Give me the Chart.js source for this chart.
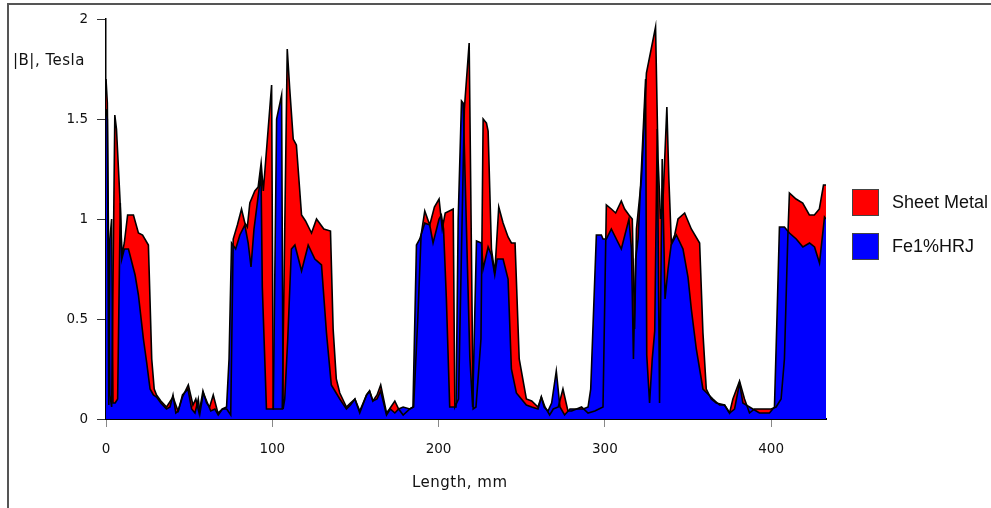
<!DOCTYPE html>
<html>
<head>
    <title>|B| along length</title>
    <script src="https://cdn.jsdelivr.net/npm/chart.js"></script>
    <style>
        body {
            margin: 0;
            background: #fff;
        }
        .wrap {
            position: relative;
            width: 991px;
            height: 508px;
            overflow: hidden;
            background: #fff;
        }
        .frame {
            position: absolute;
            left: 7px;
            top: 3px;
            width: 1000px;
            height: 520px;
            border-top: 2px solid #555;
            border-left: 2px solid #555;
        }
        canvas {
            position: absolute;
            left: 0;
            top: 0;
        }
        .axis-title {
            position: absolute;
            font-family: "DejaVu Sans", sans-serif;
            font-size: 15px;
            letter-spacing: 0.5px;
            line-height: 16px;
            color: #111;
            white-space: nowrap;
        }
        .legend-item {
            position: absolute;
            left: 852px;
            font-family: "Liberation Sans", Arial, sans-serif;
            font-size: 18px;
            line-height: 27px;
            color: #111;
            white-space: nowrap;
        }
        .legend-item span {
            display: inline-block;
            width: 27px;
            height: 27px;
            box-sizing: border-box;
            border: 1px solid #444;
            vertical-align: top;
            margin-right: 13px;
        }
    </style>
</head>
<body>
<div class="wrap">
    <div class="frame"></div>
    <canvas id="bChart" width="991" height="508"></canvas>
    <div class="axis-title" style="left:13px; top:52px;">|B|, Tesla</div>
    <div class="axis-title" style="left:412px; top:474px;">Length, mm</div>
    <div class="legend-item" style="top:189px;"><span style="background:#ff0000"></span>Sheet Metal</div>
    <div class="legend-item" style="top:233px;"><span style="background:#0000ff"></span>Fe1%HRJ</div>
</div>

<script>
    // Sheet Metal, length in mm and |B| in Tesla
    var sheetLen = [0, 0.8, 2.3, 3.4, 5.3, 6.3, 8.4, 9.6, 11, 13, 16.5, 19.5, 22, 25.5, 27.5, 29, 30.4, 33, 36.4, 40.3,
        43.3, 46, 49.5, 52.3, 54, 56, 58.3, 60.5, 62.3, 64.5, 67.3, 70, 72.6, 75, 76.5, 79, 81.5, 83.5, 85, 86.5,
        89.5, 91.5, 93.3, 94.6, 99.6, 100.6, 103, 106, 109, 110.5, 112.6, 114.5, 117.6, 120, 123.6, 126.6, 131, 135, 136.6, 138.5,
        140.6, 144.6, 147, 149.7, 152.6, 156.7, 158.5, 160.5, 163, 165.2, 168.7, 170.5, 173.7, 176, 178.7, 182.7, 185, 187.5, 189.5, 191.7,
        194.7, 197.5, 200.3, 202.2, 204, 208.8, 209.8, 212, 215.5, 218.4, 220.8, 222.5, 225.5, 226.8, 228.8, 229.8, 231.8, 233.8, 236.2, 238.8,
        241.8, 243.8, 246, 248.5, 252.8, 256, 259.8, 261.8, 264, 266.8, 269, 272, 274.8, 277.8, 280, 283, 286, 289.9, 294, 298.9,
        300.9, 303.9, 306.5, 309.9, 311.9, 314.5, 316.5, 317.9, 319, 322, 325, 330.5, 332, 333.5, 335, 337.3, 338.5, 340, 342, 344,
        348, 352, 357, 359, 361, 364, 367, 372, 375, 377, 381, 384, 387, 390, 395, 400, 403, 406, 408, 410,
        411, 415, 419, 423, 426, 429, 431.5, 433];
    var sheetB = [1.70, 1.58, 0.12, 0.06, 1.52, 1.45, 1.10, 0.82, 0.88, 1.02, 1.02, 0.93, 0.92, 0.87, 0.30, 0.15, 0.12, 0.09, 0.06, 0.11,
        0.04, 0.11, 0.17, 0.07, 0.10, 0.03, 0.14, 0.08, 0.06, 0.12, 0.03, 0.05, 0.05, 0.02, 0.90, 0.97, 1.05, 0.98, 0.96, 1.08,
        1.14, 1.16, 1.28, 1.14, 1.67, 0.05, 0.05, 0.05, 1.85, 1.65, 1.40, 1.37, 1.02, 0.99, 0.93, 1.00, 0.95, 0.94, 0.45, 0.20,
        0.13, 0.06, 0.08, 0.10, 0.04, 0.12, 0.14, 0.09, 0.12, 0.17, 0.03, 0.05, 0.09, 0.05, 0.02, 0.05, 0.06, 0.50, 0.92, 1.04,
        0.97, 1.06, 1.10, 0.95, 1.03, 1.05, 0.06, 0.10, 1.55, 1.88, 0.05, 0.06, 0.40, 1.50, 1.48, 1.44, 0.85, 0.73, 1.06, 0.98,
        0.91, 0.88, 0.88, 0.30, 0.10, 0.09, 0.06, 0.11, 0.06, 0.02, 0.05, 0.06, 0.15, 0.04, 0.04, 0.05, 0.06, 0.03, 0.04, 0.06,
        1.07, 1.05, 1.03, 1.09, 1.05, 1.02, 1.00, 0.45, 0.95, 1.20, 1.73, 1.96, 1.30, 1.00, 1.10, 1.56, 1.20, 0.88, 0.92, 1.00,
        1.03, 0.95, 0.88, 0.43, 0.15, 0.10, 0.08, 0.07, 0.03, 0.10, 0.19, 0.10, 0.03, 0.05, 0.05, 0.05, 0.06, 0.10, 0.30, 0.90,
        1.13, 1.10, 1.08, 1.02, 1.02, 1.05, 1.17, 1.17];

    // Fe1%HRJ
    var hrjLen = [0, 0.8, 1.7, 2.3, 3.4, 4.2, 5.5, 7, 8.6, 9.5, 11, 13.5, 17.5, 19.5, 22.5, 24.5, 26.5, 28.5, 30.4, 33,
        36.4, 38.5, 40.3, 42, 43.5, 46, 49.3, 51.5, 53.5, 55.5, 56.5, 58.5, 61, 63, 65.5, 67.5, 70, 72.5, 74, 75.5,
        78, 80.5, 83.5, 85.5, 87.2, 89, 91, 92.5, 93.2, 94, 96.5, 100.6, 102.6, 105.6, 106.5, 107.5, 109.3, 111.5, 113.6, 117.6,
        121.6, 125.6, 129.6, 132.6, 135.5, 140.6, 144.6, 147, 149.7, 152.6, 156.7, 158.5, 160.5, 163, 165.2, 168.7, 171, 173.7, 176, 178.7,
        182.7, 184.6, 186.7, 188.7, 191.7, 194.7, 196.7, 200.3, 201.7, 203, 204.7, 206.7, 210.5, 211.8, 213.8, 214.8, 218.8, 220.5, 222.8, 225.8,
        226.8, 229.8, 231.8, 233.8, 235.2, 238.8, 241.8, 243.8, 246.8, 252.8, 256, 259.8, 261.8, 263.5, 265.8, 268, 270.8, 273, 275.8, 279,
        283, 287, 289.9, 291.5, 294.9, 297.9, 298.9, 300.9, 303.9, 309.9, 314.5, 316, 317.2, 318.5, 320, 324.5, 325.2, 326.9, 328.5, 330, 331.5,
        332.9, 334.5, 336.2, 338, 339.9, 343, 347, 350, 352, 355, 359, 365, 369, 372, 375, 378, 381, 383, 387, 393,
        399, 402, 403.5, 405, 408, 411, 415.1, 419.1, 423.1, 426.1, 429.1, 432.1, 433];
    var hrjB = [1.55, 1.50, 0.07, 0.90, 1.00, 0.08, 0.08, 0.10, 1.08, 0.80, 0.85, 0.85, 0.72, 0.62, 0.40, 0.28, 0.15, 0.12, 0.11, 0.08,
        0.05, 0.06, 0.12, 0.03, 0.04, 0.12, 0.15, 0.05, 0.03, 0.10, 0.03, 0.13, 0.08, 0.04, 0.05, 0.02, 0.05, 0.06, 0.30, 0.88,
        0.85, 0.92, 0.97, 0.88, 0.76, 0.95, 1.08, 1.18, 1.25, 0.66, 0.05, 0.05, 1.50, 1.62, 0.05, 0.10, 0.40, 0.85, 0.87, 0.74,
        0.87, 0.80, 0.77, 0.43, 0.17, 0.10, 0.05, 0.07, 0.10, 0.03, 0.12, 0.14, 0.09, 0.10, 0.14, 0.02, 0.05, 0.03, 0.05, 0.06,
        0.05, 0.06, 0.87, 0.90, 0.98, 0.97, 0.88, 1.00, 1.02, 0.95, 0.60, 0.06, 0.06, 1.00, 1.59, 1.58, 0.31, 0.06, 0.89, 0.88,
        0.75, 0.86, 0.82, 0.72, 0.80, 0.80, 0.70, 0.25, 0.13, 0.07, 0.06, 0.05, 0.11, 0.06, 0.04, 0.08, 0.24, 0.06, 0.02, 0.05,
        0.05, 0.05, 0.06, 0.15, 0.92, 0.92, 0.90, 0.90, 0.95, 0.85, 1.00, 0.85, 0.30, 0.80, 0.90, 1.70, 0.32, 0.08, 0.30, 0.44, 1.45,
        0.08, 1.30, 0.60, 0.75, 0.87, 0.92, 0.85, 0.71, 0.55, 0.35, 0.15, 0.10, 0.07, 0.07, 0.03, 0.05, 0.18, 0.08, 0.06, 0.03,
        0.03, 0.06, 0.50, 0.96, 0.96, 0.93, 0.90, 0.86, 0.88, 0.86, 0.78, 1.01, 1.00];

    var xTicks = [0, 100, 200, 300, 400];
    var yTicks = [0, 0.5, 1, 1.5, 2];

    function pairs(xs, ys) {
        return xs.map(function(x, i) { return { x: x, y: ys[i] }; });
    }

    var tickFont = { family: 'DejaVu Sans', size: 13.5 };

    var ctx = document.getElementById('bChart').getContext('2d');
    var bChart = new Chart(ctx, {
        type: 'line',
        data: {
            datasets: [
                {
                    label: 'Sheet Metal',
                    data: pairs(sheetLen, sheetB),
                    backgroundColor: '#ff0000',
                    borderColor: '#000',
                    borderWidth: 1.6,
                    fill: 'origin',
                    order: 1
                },
                {
                    label: 'Fe1%HRJ',
                    data: pairs(hrjLen, hrjB),
                    backgroundColor: '#0000ff',
                    borderColor: '#000',
                    borderWidth: 1.6,
                    fill: 'origin',
                    order: 0
                }
            ]
        },
        options: {
            responsive: false,
            animation: false,
            devicePixelRatio: 1,
            layout: { padding: { top: 19, right: 165, left: 0, bottom: 0 } },
            elements: {
                point: { radius: 0 },
                line: { tension: 0, borderJoinStyle: 'miter' }
            },
            plugins: {
                legend: { display: false },
                tooltip: { enabled: false },
                filler: { drawTime: 'beforeDatasetsDraw' }
            },
            scales: {
                x: {
                    type: 'linear',
                    min: 0,
                    max: 433,
                    afterBuildTicks: function(scale) {
                        scale.ticks = xTicks.map(function(v) { return { value: v }; });
                    },
                    afterFit: function(scale) { scale.height = 89; },
                    grid: { drawOnChartArea: false, drawTicks: true, tickLength: 8, color: '#888' },
                    border: { display: true, color: '#000', width: 2 },
                    ticks: { font: tickFont, color: '#111', padding: 14, maxRotation: 0 }
                },
                y: {
                    min: 0,
                    max: 2,
                    afterBuildTicks: function(scale) {
                        scale.ticks = yTicks.map(function(v) { return { value: v }; });
                    },
                    afterFit: function(scale) { scale.width = 106; },
                    grid: { drawOnChartArea: false, drawTicks: true, tickLength: 9, color: '#333' },
                    border: { display: true, color: '#000', width: 1.5 },
                    ticks: {
                        font: tickFont,
                        color: '#111',
                        padding: 9,
                        callback: function(v) { return String(v); }
                    }
                }
            }
        }
    });
</script>
</body>
</html>
